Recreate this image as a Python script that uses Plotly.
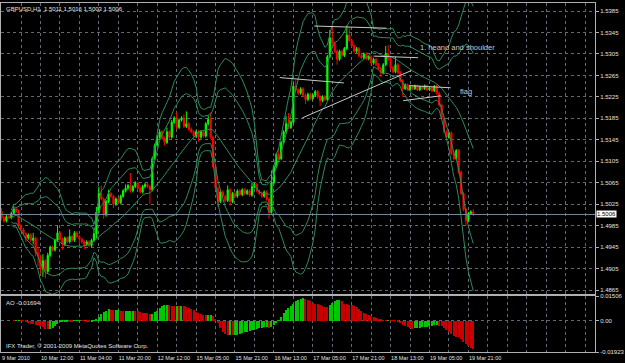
import numpy as np
import pandas as pd
import plotly.graph_objects as go

# ---------------- data ----------------
symbol = "GBPUSD,H1"
first_open = 1.5012
closes = [
    1.5000, 1.4994, 1.5002, 1.5000, 1.5008, 1.5016, 1.5012, 1.4985, 1.4978, 1.4970,
    1.4962, 1.4968, 1.4958, 1.4962, 1.4935, 1.4928, 1.4905, 1.4920, 1.4900, 1.4930,
    1.4945, 1.4940, 1.4958, 1.4972, 1.4960, 1.4950, 1.4962, 1.4955, 1.4965, 1.4958,
    1.4972, 1.4965, 1.4960, 1.4955, 1.4950, 1.4955, 1.4948, 1.4958, 1.4970, 1.5010,
    1.5045, 1.5035, 1.5005, 1.5030, 1.5045, 1.5040, 1.5025, 1.5035, 1.5028, 1.5040,
    1.5050, 1.5055, 1.5060, 1.5050, 1.5058, 1.5065, 1.5055, 1.5048, 1.5058, 1.5062,
    1.5058, 1.5052, 1.5110, 1.5135, 1.5150, 1.5160, 1.5148, 1.5140, 1.5160, 1.5150,
    1.5178, 1.5186, 1.5168, 1.5182, 1.5186, 1.5170, 1.5175, 1.5165, 1.5160, 1.5152,
    1.5160, 1.5150, 1.5160, 1.5152, 1.5175, 1.5183, 1.5150, 1.5095, 1.5055, 1.5030,
    1.5048, 1.5040, 1.5032, 1.5052, 1.5030, 1.5045, 1.5040, 1.5050, 1.5043, 1.5052,
    1.5045, 1.5050, 1.5042, 1.5058, 1.5062, 1.5050, 1.5045, 1.5040, 1.5048, 1.5035,
    1.5010, 1.5065, 1.5095, 1.5118, 1.5110, 1.5140, 1.5160, 1.5175, 1.5168, 1.5178,
    1.5245, 1.5238, 1.5232, 1.5240, 1.5228, 1.5220, 1.5230, 1.5222, 1.5228, 1.5235,
    1.5225, 1.5218, 1.5225, 1.5220, 1.5300, 1.5335, 1.5325, 1.5310, 1.5295, 1.5310,
    1.5302, 1.5315, 1.5340, 1.5330, 1.5320, 1.5310, 1.5315, 1.5302, 1.5298, 1.5305,
    1.5296, 1.5300, 1.5288, 1.5295, 1.5285, 1.5278, 1.5270, 1.5285, 1.5305, 1.5295,
    1.5280, 1.5272, 1.5285, 1.5270, 1.5255, 1.5240, 1.5248, 1.5238, 1.5245, 1.5240,
    1.5246, 1.5238, 1.5244, 1.5240, 1.5246, 1.5238, 1.5242, 1.5236, 1.5245, 1.5232,
    1.5210, 1.5185, 1.5160, 1.5150, 1.5158, 1.5120, 1.5110, 1.5125, 1.5085, 1.5045,
    1.5015, 1.4995, 1.5008, 1.5011, 1.5006,
]
upper_wick_pips = [
    6, 3, 3, 3, 3, 6, 3, 3, 3, 3, 3, 3, 3, 10, 3, 10, 3, 12, 3, 5,
    3, 3, 3, 13, 3, 3, 3, 3, 13, 3, 3, 3, 3, 3, 3, 3, 3, 3, 10, 10,
    13, 15, 3, 3, 7, 3, 3, 3, 3, 3, 3, 7, 3, 23, 3, 3, 3, 3, 3, 3,
    3, 3, 4, 3, 3, 5, 3, 3, 8, 3, 4, 3, 10, 3, 3, 6, 23, 3, 3, 3,
    3, 3, 3, 3, 3, 7, 13, 3, 3, 3, 3, 3, 3, 8, 3, 3, 3, 3, 3, 3,
    3, 3, 3, 7, 3, 3, 3, 3, 3, 3, 3, 23, 3, 3, 10, 3, 3, 15, 20, 3,
    7, 11, 3, 3, 3, 3, 3, 3, 3, 3, 3, 3, 3, 3, 3, 15, 20, 3, 3, 3,
    3, 3, 18, 15, 3, 3, 3, 3, 3, 3, 3, 3, 3, 3, 3, 3, 3, 3, 15, 17,
    3, 3, 15, 3, 3, 3, 2, 2, 2, 2, 2, 2, 2, 2, 2, 2, 2, 2, 2, 3,
    3, 3, 3, 3, 3, 3, 3, 3, 3, 3, 3, 3, 3, 3, 5,
]
lower_wick_pips = [
    5, 3, 3, 3, 3, 3, 3, 5, 3, 3, 7, 3, 3, 8, 7, 18, 10, 15, 13, 5,
    3, 3, 3, 3, 3, 10, 3, 3, 3, 3, 3, 3, 10, 3, 8, 3, 3, 3, 3, 8,
    3, 3, 7, 3, 3, 3, 7, 3, 3, 3, 3, 3, 3, 3, 3, 3, 3, 3, 3, 3,
    3, 27, 3, 3, 3, 3, 3, 5, 3, 3, 3, 3, 3, 3, 3, 3, 3, 3, 3, 7,
    3, 8, 3, 3, 3, 3, 3, 3, 3, 10, 3, 3, 3, 3, 7, 3, 3, 3, 3, 3,
    3, 3, 3, 3, 3, 3, 3, 3, 3, 3, 12, 3, 3, 3, 3, 3, 3, 3, 3, 3,
    3, 3, 3, 3, 3, 8, 3, 3, 3, 3, 3, 10, 3, 3, 3, 3, 3, 3, 10, 3,
    3, 3, 3, 3, 3, 3, 3, 3, 3, 3, 3, 3, 3, 3, 3, 3, 8, 3, 3, 3,
    3, 3, 3, 3, 3, 15, 2, 2, 2, 2, 2, 2, 2, 2, 2, 2, 2, 2, 2, 3,
    3, 3, 3, 3, 3, 3, 3, 3, 3, 3, 3, 10, 3, 3, 3,
]
time_labels = ["9 Mar 2010", "10 Mar 12:00", "11 Mar 04:00", "11 Mar 20:00",
               "12 Mar 12:00", "15 Mar 05:00", "15 Mar 21:00", "16 Mar 13:00",
               "17 Mar 05:00", "17 Mar 21:00", "18 Mar 13:00", "19 Mar 05:00",
               "19 Mar 21:00"]
price_ticks = [1.4865, 1.4905, 1.4945, 1.4985, 1.5025, 1.5065, 1.5105,
               1.5145, 1.5185, 1.5225, 1.5265, 1.5305, 1.5345, 1.5385]
ao_ticks = [0.01506, 0.0, -0.01923]
ao_label = "AO -0.01694"
# drawn trend lines: (bar0, price0, bar1, price1)
trend_lines = [
    (114.4, 1.5261, 140.8, 1.5251),   # left shoulder
    (128.6, 1.5357, 158.3, 1.5353),   # head
    (153.0, 1.5301, 171.3, 1.5298),   # right shoulder
    (123.7, 1.5186, 168.5, 1.5274),   # neckline
    (167.6, 1.5246, 184.7, 1.5242),   # flag top
    (165.2, 1.5218, 180.6, 1.5227),   # flag bottom
]

# ---------------- derived series ----------------
c = np.array(closes)
o = np.r_[first_open, c[:-1]]
h = np.maximum(o, c) + np.array(upper_wick_pips) * 1e-4
l = np.minimum(o, c) - np.array(lower_wick_pips) * 1e-4
idx = np.arange(len(c))

s = pd.Series(c)
mid = s.rolling(20, min_periods=5).mean()
sd = s.rolling(20, min_periods=5).std(ddof=0)

med = pd.Series((h + l) / 2)
ao = med.rolling(5, min_periods=1).mean() - med.rolling(34, min_periods=1).mean()
ao_col = ["#00c800" if i > 0 and ao[i] > ao[i - 1] else "#c80000" for i in range(len(ao))]

FONT = "Liberation Sans, Arial, sans-serif"
GRID = "#5f6a76"
FRAME = "#b0b0b0"
TXT = "#e0e0e0"
BB = "#2f8a58"

fig = go.Figure()
for k in (3, 2):
    fig.add_trace(go.Scatter(x=idx, y=mid + k * sd, mode="lines", line=dict(color=BB, width=1), hoverinfo="skip"))
    fig.add_trace(go.Scatter(x=idx, y=mid - k * sd, mode="lines", line=dict(color=BB, width=1), hoverinfo="skip"))
fig.add_trace(go.Scatter(x=idx, y=mid, mode="lines", line=dict(color=BB, width=1), hoverinfo="skip"))

fig.add_trace(go.Candlestick(
    x=idx, open=o, high=h, low=l, close=c, whiskerwidth=0,
    increasing=dict(line=dict(color="#00ff00", width=1), fillcolor="#00ff00"),
    decreasing=dict(line=dict(color="#ff0000", width=1), fillcolor="#ff0000"),
    xaxis="x", yaxis="y"))

fig.add_trace(go.Bar(x=idx, y=ao, marker=dict(color=ao_col, line=dict(width=0)),
                     width=0.45, xaxis="x2", yaxis="y2"))

x_range = [-0.24, 244.07]
grid_vals = list(range(0, 241, 8))
grid_text = [time_labels[v // 16] if v % 16 == 0 and v // 16 < len(time_labels) else "" for v in grid_vals]

fig.update_layout(
    width=625, height=363, margin=dict(l=0, r=24, t=2, b=11),
    paper_bgcolor="black", plot_bgcolor="black", showlegend=False,
    bargap=0,
    xaxis=dict(domain=[0, 1], anchor="y", range=x_range, tickvals=grid_vals, showticklabels=False,
               showgrid=True, gridcolor=GRID, griddash="dot", gridwidth=1, zeroline=False,
               showline=True, mirror=True, linecolor=FRAME, linewidth=1, ticks="",
               rangeslider=dict(visible=False)),
    yaxis=dict(domain=[0.1657, 1], anchor="x", side="right", range=[1.48576, 1.53999],
               tickvals=price_ticks, ticktext=[f"{v:.4f}" for v in price_ticks],
               showgrid=True, gridcolor=GRID, griddash="dot", zeroline=False,
               showline=True, mirror=True, linecolor=FRAME, linewidth=1,
               ticks="outside", ticklen=3, tickcolor=FRAME,
               tickfont=dict(family=FONT, size=6, color=TXT)),
    xaxis2=dict(domain=[0, 1], anchor="y2", range=x_range, matches="x", tickvals=grid_vals,
                ticktext=grid_text, ticklabelposition="outside right", tickangle=0,
                tickfont=dict(family=FONT, size=5.5, color=TXT),
                showgrid=True, gridcolor=GRID, griddash="dot", zeroline=False,
                showline=True, mirror=True, linecolor=FRAME, linewidth=1, ticks=""),
    yaxis2=dict(domain=[0, 0.16], anchor="x2", side="right", range=[-0.01923, 0.01506],
                tickvals=ao_ticks, ticktext=["0.01506", "0.00", "-0.01923"],
                showgrid=True, gridcolor=GRID, griddash="dot", zeroline=False,
                showline=True, mirror=True, linecolor=FRAME, linewidth=1,
                ticks="outside", ticklen=3, tickcolor=FRAME,
                tickfont=dict(family=FONT, size=6, color=TXT)),
)

# current price line and label
last_close = c[-1]
fig.add_shape(type="line", xref="x domain", yref="y", x0=0, x1=1, y0=last_close, y1=last_close,
              line=dict(color="#778899", width=1))
fig.add_annotation(x=1, xref="paper", xanchor="left", xshift=1, y=last_close, yref="y",
                   text=f"{last_close:.4f}", showarrow=False, bgcolor="white", borderpad=0,
                   font=dict(family=FONT, size=6, color="black"))

for x0, y0, x1, y1 in trend_lines:
    fig.add_shape(type="line", xref="x", yref="y", x0=x0, y0=y0, x1=x1, y1=y1,
                  line=dict(color="#c8c8c8", width=1))

title = f"{symbol}  {o[-1]:.4f} {h[-1]:.4f} {l[-1]:.4f} {c[-1]:.4f}"
fig.add_annotation(x=0, y=1, xref="paper", yref="paper", xanchor="left", yanchor="top",
                   xshift=3, yshift=-1, text=title, showarrow=False,
                   font=dict(family=FONT, size=6, color=TXT))
fig.add_annotation(x=0, y=1, xref="paper", yref="y2 domain", xanchor="left", yanchor="top",
                   xshift=3, yshift=-2, text=ao_label, showarrow=False,
                   font=dict(family=FONT, size=6, color=TXT))
fig.add_annotation(x=0, y=0, xref="paper", yref="y2 domain", xanchor="left", yanchor="bottom",
                   xshift=3, yshift=1, text="IFX Trader, © 2001-2009 MetaQuotes Software Corp.",
                   showarrow=False, font=dict(family=FONT, size=6, color=TXT))
fig.add_annotation(x=171.3, y=1.5317, xref="x", yref="y", xanchor="left", text="1. heand and shoulder",
                   showarrow=False, font=dict(family=FONT, size=7.5, color="#c8c8c8"))
fig.add_annotation(x=187.6, y=1.5235, xref="x", yref="y", xanchor="left", text="flag",
                   showarrow=False, font=dict(family=FONT, size=7.5, color="#c8c8c8"))

fig.write_html("out.html")
